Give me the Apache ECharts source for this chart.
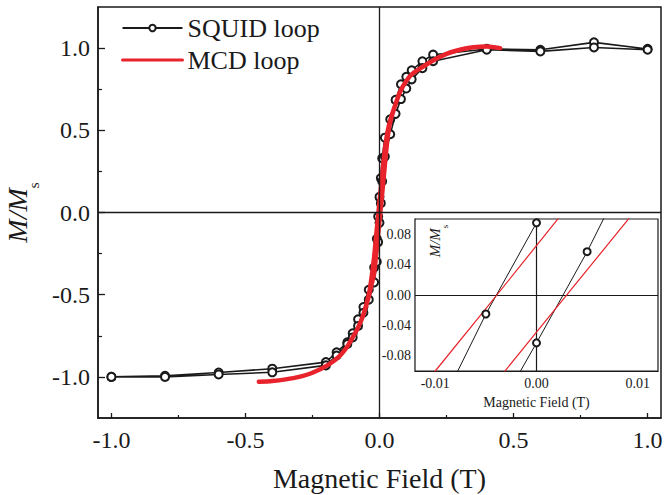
<!DOCTYPE html>
<html>
<head>
<meta charset="utf-8">
<script src="https://cdn.jsdelivr.net/npm/echarts@6/dist/echarts.min.js"></script>
<style>
  html, body { margin: 0; padding: 0; background: #fff; }
  #chart { width: 667px; height: 495px; }
</style>
</head>
<body>
<div id="chart"></div>
<script>
// SQUID hysteresis loop: field (T) and normalised magnetisation M/Ms,
// first the branch swept down from +1 T, then the branch swept back up.
const squidFieldDown = [1.0, 0.8, 0.6, 0.4, 0.2, 0.16, 0.12, 0.10, 0.08, 0.06, 0.04, 0.02, 0.01, 0.005, 0,
  -0.005, -0.01, -0.02, -0.04, -0.06, -0.08, -0.10, -0.12, -0.16, -0.2, -0.4, -0.6, -0.8, -1.0];
const squidMDown = [0.995, 1.035, 0.99, 0.995, 0.96, 0.92, 0.865, 0.825, 0.78, 0.685, 0.567, 0.455, 0.33, 0.21, 0.095,
  -0.025, -0.16, -0.335, -0.47, -0.575, -0.65, -0.735, -0.79, -0.85, -0.91, -0.95, -0.973, -0.993, -1.0];
const squidFieldUp = [-1.0, -0.8, -0.6, -0.4, -0.2, -0.16, -0.12, -0.10, -0.08, -0.06, -0.04, -0.02, -0.01, -0.005, 0,
  0.005, 0.01, 0.02, 0.04, 0.06, 0.08, 0.10, 0.12, 0.16, 0.2, 0.4, 0.6, 0.8, 1.0];
const squidMUp = [-1.0, -1.0, -0.985, -0.972, -0.93, -0.87, -0.80, -0.76, -0.69, -0.61, -0.53, -0.425, -0.30, -0.18, -0.063,
  0.057, 0.19, 0.34, 0.476, 0.60, 0.69, 0.754, 0.81, 0.878, 0.92, 0.99, 0.98, 1.004, 0.99];

// MCD loop, same convention.
const mcdFieldDown = [0.45, 0.40, 0.35, 0.30, 0.25, 0.20, 0.16, 0.12, 0.10, 0.08, 0.06, 0.04, 0.03, 0.02, 0.01, 0.005, 0,
  -0.005, -0.01, -0.015, -0.02, -0.03, -0.04, -0.06, -0.08, -0.10, -0.12, -0.15, -0.19, -0.25, -0.30, -0.35, -0.40, -0.45];
const mcdMDown = [1.0, 1.01, 1.005, 0.99, 0.965, 0.925, 0.885, 0.84, 0.80, 0.745, 0.66, 0.56, 0.49, 0.385, 0.23, 0.148, 0.065,
  -0.018, -0.10, -0.185, -0.27, -0.40, -0.50, -0.62, -0.70, -0.76, -0.815, -0.875, -0.925, -0.975, -1.0, -1.015, -1.025, -1.03];
const mcdFieldUp = [-0.45, -0.40, -0.35, -0.30, -0.25, -0.19, -0.15, -0.12, -0.10, -0.08, -0.06, -0.04, -0.03, -0.02, -0.015,
  -0.01, -0.005, 0, 0.005, 0.01, 0.015, 0.02, 0.03, 0.04, 0.06, 0.08, 0.10, 0.12, 0.16, 0.20, 0.25, 0.30, 0.35, 0.40, 0.45];
const mcdMUp = [-1.03, -1.025, -1.015, -1.0, -0.975, -0.925, -0.875, -0.815, -0.76, -0.70, -0.62, -0.51, -0.44, -0.37, -0.295,
  -0.213, -0.131, -0.049, 0.033, 0.115, 0.20, 0.29, 0.45, 0.55, 0.66, 0.745, 0.80, 0.84, 0.885, 0.925, 0.965, 0.99, 1.005, 1.01, 1.0];

// Tick positions
const mainXTicks = [-1.0, -0.5, 0, 0.5, 1.0];
const mainXMinor = [-0.75, -0.25, 0.25, 0.75];
const mainYTicks = [-1.0, -0.5, 0, 0.5, 1.0];
const mainYMinor = [-0.75, -0.25, 0.25, 0.75];
const insetXTicks = [-0.01, 0, 0.01];
const insetXMinor = [-0.005, 0.005];
const insetYTicks = [-0.08, -0.04, 0, 0.04, 0.08];
const insetYMinor = [-0.06, -0.02, 0.02, 0.06];

const seriesNames = ['SQUID loop', 'MCD loop'];

function pairs(xs, ys) { return xs.map((x, i) => [x, ys[i]]); }
const squidLoop = pairs(squidFieldDown, squidMDown).concat(pairs(squidFieldUp, squidMUp));
const mcdLoop = pairs(mcdFieldDown, mcdMDown).concat(pairs(mcdFieldUp, mcdMUp));

const FONT = 'Liberation Serif';
const INK = '#1a1a1a';
const RED = '#e8232b';

function axis(opts) {
  return Object.assign({
    type: 'value',
    splitLine: { show: false },
    axisLine: { show: false, onZero: false },
    axisTick: { show: false },
    axisLabel: { show: false }
  }, opts);
}
function ticks(values, len, width) {
  return { show: true, inside: true, length: len, customValues: values, lineStyle: { color: INK, width: width } };
}

const chart = echarts.init(document.getElementById('chart'), null, { renderer: 'svg' });

chart.setOption({
  animation: false,
  backgroundColor: '#fff',
  textStyle: { fontFamily: FONT, color: INK },
  grid: [
    { left: 98, right: 6, top: 7, bottom: 77, outerBoundsMode: 'none', containLabel: false,
      show: true, borderColor: INK, borderWidth: 1.5, backgroundColor: 'transparent' },
    { left: 415, top: 219, width: 243, height: 152, outerBoundsMode: 'none', containLabel: false,
      show: true, borderColor: INK, borderWidth: 1.2, backgroundColor: '#fff', z: 5 }
  ],
  legend: {
    orient: 'vertical', left: 116, top: 10,
    itemWidth: 60, itemHeight: 8, itemGap: 6,
    data: [
      { name: seriesNames[0] },
      { name: seriesNames[1], itemStyle: { opacity: 0 }, lineStyle: { width: 3 } }
    ],
    textStyle: { fontFamily: FONT, fontSize: 26, color: INK }
  },
  xAxis: [
    axis({
      gridIndex: 0, min: -1.05, max: 1.05, position: 'bottom',
      axisLine: { show: true, onZero: false, lineStyle: { color: INK, width: 1.5 } },
      axisTick: ticks(mainXTicks, 5, 1.3),
      axisLabel: { show: true, customValues: mainXTicks, margin: 10, fontSize: 24, fontFamily: FONT, color: INK,
        formatter: v => v.toFixed(1) },
      name: 'Magnetic Field (T)', nameLocation: 'middle', nameGap: 46,
      nameTextStyle: { fontSize: 28, fontFamily: FONT, color: INK }
    }),
    axis({ gridIndex: 0, min: -1.05, max: 1.05, position: 'bottom', axisTick: ticks(mainXMinor, 3, 1.2) }),
    axis({
      gridIndex: 1, min: -0.012, max: 0.012, position: 'bottom',
      axisLine: { show: true, onZero: false, lineStyle: { color: INK, width: 1.2 } },
      axisTick: ticks(insetXTicks, 5, 1),
      axisLabel: { show: true, customValues: insetXTicks, margin: 5, fontSize: 14, fontFamily: FONT, color: INK,
        formatter: v => v.toFixed(2) },
      name: 'Magnetic Field (T)', nameLocation: 'middle', nameGap: 24,
      nameTextStyle: { fontSize: 14, fontFamily: FONT, color: INK }
    }),
    axis({ gridIndex: 1, min: -0.012, max: 0.012, position: 'bottom', axisTick: ticks(insetXMinor, 3, 1) })
  ],
  yAxis: [
    axis({
      gridIndex: 0, min: -1.25, max: 1.25, position: 'left',
      axisLine: { show: true, onZero: false, lineStyle: { color: INK, width: 1.5 } },
      axisTick: ticks(mainYTicks, 7, 1.3),
      axisLabel: { show: true, customValues: mainYTicks, margin: 8, fontSize: 24, fontFamily: FONT, color: INK,
        formatter: v => v.toFixed(1) },
      name: '{i|M/M}{s|s}', nameLocation: 'middle', nameGap: 52,
      nameTextStyle: {
        color: INK,
        rich: {
          i: { fontFamily: FONT, fontStyle: 'italic', fontSize: 28, lineHeight: 38, verticalAlign: 'top', color: INK },
          s: { fontFamily: FONT, fontSize: 15, lineHeight: 38, verticalAlign: 'bottom', color: INK }
        }
      }
    }),
    axis({ gridIndex: 0, min: -1.25, max: 1.25, position: 'left', axisTick: ticks(mainYMinor, 4, 1.2) }),
    axis({
      gridIndex: 1, min: -0.1, max: 0.1, position: 'left',
      axisLine: { show: true, onZero: false, lineStyle: { color: INK, width: 1.2 } },
      axisTick: ticks(insetYTicks, 5, 1),
      axisLabel: { show: true, customValues: insetYTicks, margin: 4, fontSize: 14, fontFamily: FONT, color: INK,
        formatter: v => v.toFixed(2) }
    }),
    axis({ gridIndex: 1, min: -0.1, max: 0.1, position: 'left', axisTick: ticks(insetYMinor, 3, 1) })
  ],
  graphic: [{
    type: 'text', x: 438.5, y: 241, rotation: Math.PI / 2, z: 100,
    style: {
      text: '{i|M/M}{s|s}', align: 'center', verticalAlign: 'middle', fill: INK,
      rich: {
        i: { fontFamily: FONT, fontStyle: 'italic', fontSize: 15, lineHeight: 22, verticalAlign: 'top', fill: INK },
        s: { fontFamily: FONT, fontSize: 9, lineHeight: 22, verticalAlign: 'bottom', fill: INK }
      }
    }
  }],
  series: [
    {
      name: seriesNames[0], type: 'line', xAxisIndex: 0, yAxisIndex: 0, z: 2,
      data: squidLoop, symbol: 'emptyCircle', symbolSize: 8,
      lineStyle: { color: INK, width: 1.6 },
      itemStyle: { color: INK, borderColor: INK, borderWidth: 1.4 },
      markLine: {
        silent: true, symbol: 'none', label: { show: false },
        lineStyle: { color: INK, width: 1.3, type: 'solid' },
        data: [{ xAxis: 0 }, { yAxis: 0 }]
      }
    },
    {
      name: seriesNames[1], type: 'line', xAxisIndex: 0, yAxisIndex: 0, z: 3,
      data: mcdLoop, symbol: 'none', smooth: 0.3,
      lineStyle: { color: RED, width: 4.5, cap: 'round', join: 'round' },
      itemStyle: { color: RED }
    },
    {
      name: seriesNames[0], type: 'line', xAxisIndex: 2, yAxisIndex: 2, z: 6,
      data: squidLoop, symbol: 'emptyCircle', symbolSize: 7,
      lineStyle: { color: INK, width: 1 },
      itemStyle: { color: INK, borderColor: INK, borderWidth: 1 },
      markLine: {
        silent: true, symbol: 'none', label: { show: false },
        lineStyle: { color: INK, width: 1.2, type: 'solid' },
        data: [{ xAxis: 0 }, { yAxis: 0 }]
      }
    },
    {
      name: seriesNames[1], type: 'line', xAxisIndex: 2, yAxisIndex: 2, z: 6,
      data: mcdLoop, symbol: 'none',
      lineStyle: { color: RED, width: 1.2 },
      itemStyle: { color: RED }
    }
  ]
});
</script>
</body>
</html>
